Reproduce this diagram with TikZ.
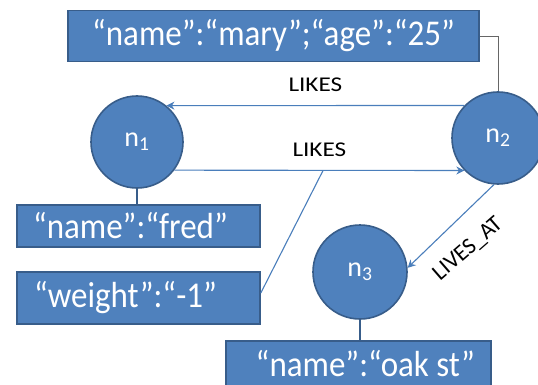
\documentclass[tikz,border=0pt]{standalone}
\usepackage{fontspec}
\setmainfont{Carlito}
\usetikzlibrary{arrows.meta,calc}
\definecolor{nodefill}{HTML}{4F81BD}
\definecolor{nodeedge}{HTML}{385D8A}
\definecolor{linkcol}{HTML}{4A7EBB}
\newcommand{\tall}[1]{\scalebox{1}[1.1]{#1}}
\begin{document}
\begin{tikzpicture}[x=1pt,y=-1pt,
  circ/.style={circle,fill=nodefill,draw=nodeedge,line width=1.6pt,minimum size=92pt,inner sep=0pt,text=white,font=\fontsize{28}{30}\selectfont},
  pbox/.style={rectangle,fill=nodefill,draw=nodeedge,line width=1.6pt,inner sep=0pt,text=white,font=\fontsize{33}{36}\selectfont},
  link/.style={draw=linkcol,line width=1.1pt},
  arr/.style={link,-{Stealth[length=8pt,width=8pt]}},
  lbl/.style={text=black,font=\fontsize{21}{23}\selectfont,inner sep=0pt}]
\useasboundingbox (0,0) rectangle (538,385);
% boxes
\node[pbox,minimum width=411pt,minimum height=51pt] (mary) at (273.5,36) {\tall{“name”:“mary”;“age”:“25”}};
\node[pbox,minimum width=243pt,minimum height=42pt] (fred) at (138.5,226) {\makebox[243pt][l]{\hspace{16pt}\tall{“name”:“fred”}}};
\node[pbox,minimum width=243pt,minimum height=52pt] (weight) at (138.5,298) {\makebox[243pt][l]{\hspace{17pt}\tall{“weight”:“-1”}}};
\node[pbox,minimum width=265pt,minimum height=46pt] (oak) at (358.5,364) {\makebox[265pt][r]{\tall{“name”:“oak st”}\hspace{16pt}}};
% circles
\node[circ] (n1) at (137,142) {n\textsubscript{1}};
\node[circ] (n2) at (498,138) {n\textsubscript{2}};
\node[circ,minimum size=94pt] (n3) at (360,272) {n\textsubscript{3}};
% connectors
\draw[arr] (n2.136) -- node[lbl,above=13pt,xscale=1.2] (l1) {LIKES} (n1.51.5);
\draw[arr] (n1.-37.5) -- node[lbl,above=13pt,xscale=1.2] (l2) {LIKES} coordinate[pos=0.513] (wmid) (n2.224);
\draw[arr] (n2.265) -- (n3.5);
\node[lbl,rotate=41,font=\fontsize{23}{25}\selectfont] (l3) at (468,249) {LIVES\_AT};
\draw[draw=gray!80!black,line width=0.9pt] (mary.east) -| (n2.north);
\draw[link,draw=nodeedge] (n1.south) -- (n1.south |- fred.north);
\draw[link,draw=nodeedge] (n3.south) -- (n3.south |- oak.north);
\draw[link] ($(weight.east)+(0,-5)$) -- (wmid);
\end{tikzpicture}
\end{document}
